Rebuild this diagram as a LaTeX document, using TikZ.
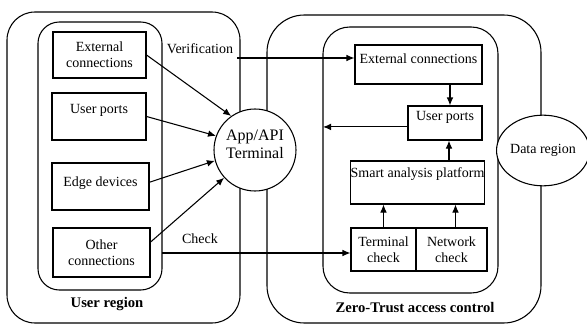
\documentclass[tikz,border=0pt]{standalone}
\usepackage{fontspec}
\setmainfont{Liberation Serif}
\usetikzlibrary{
arrows.meta,
shapes.geometric
}

\begin{document}
\begin{tikzpicture}[
    x = 0.75pt,
    y = -0.75pt,
    line width = 0.8pt,
    every node/.style={
      font = \fontsize{10.5}{12}\selectfont,
    },
    box/.style={
      draw,
      rectangle,
      align = center,
      inner sep = 0pt,
    },
    region/.style={
      draw,
      rounded corners = #1,
    },
    region label/.style={
      font = \fontsize{11}{13}\selectfont\bfseries,
    },
    flow/.style={
      -{Latex[length = 6pt, width = 5pt]},
    },
  ]
  \useasboundingbox (0,0) rectangle (587,325);

  \draw [region = 21pt] (7,12) rectangle (240,323);
  \draw [region = 16pt] (38,22) rectangle (162,290);
  \draw [region = 28pt] (267,15) rectangle (541,323);
  \draw [region = 20pt] (323,27) rectangle (498,293);
  \coordinate (zt-inner-west) at (323,127);

  \node [region label] (user-label) at (107,304) {User region};
  \node [region label] (zt-label) at (415,307) {Zero-Trust access control};

  % user side
  \node [box, minimum width = 69.75pt, minimum height = 34.5pt]
    (user-ext) at (99.5,55) {External\\connections};
  \node [box, minimum width = 70.5pt, minimum height = 35.25pt, text depth = 12pt]
    (user-port) at (99,116.5) {User ports};
  \node [box, minimum width = 72.75pt, minimum height = 35.25pt, text depth = 7pt]
    (user-edge) at (100.5,186.5) {Edge devices};
  \node [box, minimum width = 72.75pt, minimum height = 36.75pt]
    (user-other) at (101.5,252.5) {Other\\connections};

  \node [draw, fill = white, circle, minimum size = 61.5pt, inner sep = 0pt, align = center,
    text depth = 9pt, font = \fontsize{12}{13.5}\selectfont]
    (app) at (255,150) {App/API\\Terminal};

  \draw [flow] (user-ext.east) -- (app.125);
  \draw [flow] (user-port.east) -- (app.160);
  \draw [flow] (user-edge.5) -- (app.195);
  \draw [flow] (user-other.12) -- (app.222);

  % zero-trust side
  \node [box, minimum width = 95.25pt, minimum height = 29.25pt, text depth = 9pt]
    (zt-ext) at (418.5,64.5) {External connections};
  \node [box, minimum width = 55.5pt, minimum height = 25.5pt, text depth = 11pt]
    (zt-port) at (445,123) {User ports};
  \node [box, minimum width = 98.25pt, minimum height = 32.25pt, text depth = 15pt]
    (smart) at (417.5,182.5) {Smart analysis platform};
  \node [box, minimum width = 48.75pt, minimum height = 32.25pt]
    (term-check) at (383.5,249.5) {Terminal\\check};
  \node [box, minimum width = 53.25pt, minimum height = 32.25pt]
    (net-check) at (451.5,249.5) {Network\\check};

  \node [draw, fill = white, ellipse, minimum width = 67.5pt, minimum height = 53pt, inner sep = 0pt]
    (data) at (543,150.5) {Data region};

  \draw [flow] ([xshift = 3.75pt]zt-port.north |- zt-ext.south)
    -- ([xshift = 3.75pt]zt-port.north);
  \draw [flow] ([xshift = 3pt]zt-port.south |- smart.north)
    -- ([xshift = 3pt]zt-port.south);
  \draw [flow] (term-check.north) -- (term-check.north |- smart.south);
  \draw [flow] ([xshift = 3pt]net-check.north) -- ([xshift = 3pt]net-check.north |- smart.south);
  \draw [flow] (zt-port.186) -- (zt-port.186 -| zt-inner-west);

  % links between regions
  \node (verif) at (200,49) {Verification};
  \coordinate (verif-start) at (237,58);
  \draw [flow] (verif-start) -- (verif-start -| zt-ext.west);

  \node (check) at (200,239) {Check};
  \coordinate (check-start) at (162,253);
  \draw [flow] (check-start) -- (check-start -| term-check.west);
\end{tikzpicture}
\end{document}
